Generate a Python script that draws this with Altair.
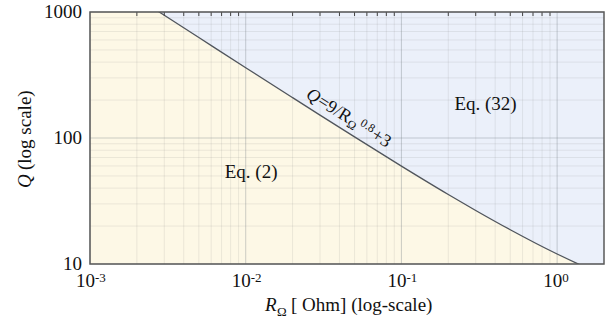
import math
import altair as alt
import pandas as pd

# ---- data ----
R_ohm = [0.001, 0.002, 0.003, 0.005, 0.01, 0.02, 0.03, 0.05, 0.1, 0.2, 0.3, 0.5, 1.0, 1.5, 2.0]
Q_curve = [2264, 1301, 942, 627, 361, 209, 152, 102, 59.8, 35.6, 26.6, 18.7, 12.0, 9.5, 8.17]

x_major = [0.001, 0.01, 0.1, 1.0]
x_exponents = ["-3", "-2", "-1", "0"]
x_minor = [0.002, 0.003, 0.004, 0.005, 0.006, 0.007, 0.008, 0.009,
           0.02, 0.03, 0.04, 0.05, 0.06, 0.07, 0.08, 0.09,
           0.2, 0.3, 0.4, 0.5, 0.6, 0.7, 0.8, 0.9]
y_major = [10, 100, 1000]
y_labels = ["10", "100", "1000"]
y_minor = [20, 30, 40, 50, 60, 70, 80, 90, 200, 300, 400, 500, 600, 700, 800, 900]

region_labels = ["Eq. (2)", "Eq. (32)"]
region_R = [0.00733, 0.219]
region_Q = [48.2, 166.8]

W, H = 514, 252
FONT = "Liberation Serif"

xs = alt.Scale(type="log", domain=[0.001, 2], nice=False)
ys = alt.Scale(type="log", domain=[10, 1000], nice=False)

curve = pd.DataFrame({"R": R_ohm, "Q": Q_curve})
xmaj = pd.DataFrame({"v": x_major, "e": x_exponents})
xmin = pd.DataFrame({"v": x_minor})
ymaj = pd.DataFrame({"v": y_major, "t": y_labels})
ymin = pd.DataFrame({"v": y_minor})
regions = pd.DataFrame({"R": region_R, "Q": region_Q, "t": region_labels})
one = pd.DataFrame({"a": [0]})

X = lambda f: alt.X(f, type="quantitative", scale=xs, axis=None)
Y = lambda f: alt.Y(f, type="quantitative", scale=ys, axis=None, stack=None)

blue = alt.Chart(curve).mark_area(color="#ebf0fa", clip=True, interpolate="monotone").encode(
    x=X("R"), y=Y("Q"), y2=alt.value(0))
yellow = alt.Chart(curve).mark_area(color="#fdf8e6", clip=True, interpolate="monotone").encode(
    x=X("R"), y=Y("Q"), y2=alt.value(H))

gx_min = alt.Chart(xmin).mark_rule(color="#808080", opacity=0.14, strokeWidth=1).encode(x=X("v"))
gy_min = alt.Chart(ymin).mark_rule(color="#808080", opacity=0.14, strokeWidth=1).encode(y=Y("v"))
gx_maj = alt.Chart(xmaj).mark_rule(color="#707880", opacity=0.35, strokeWidth=1).encode(x=X("v"))
gy_maj = alt.Chart(ymaj).mark_rule(color="#707880", opacity=0.35, strokeWidth=1).encode(y=Y("v"))

top_ticks = alt.Chart(xmin).mark_rule(color="#444444", strokeWidth=1).encode(
    x=X("v"), y=alt.value(0), y2=alt.value(4))

line = alt.Chart(curve).mark_line(color="#50555c", strokeWidth=1.3, clip=True,
                                   interpolate="monotone").encode(x=X("R"), y=Y("Q"))

frame = alt.Chart(one).mark_rect(fillOpacity=0, stroke="#5a5a5a", strokeWidth=1.5).encode(
    x=alt.value(0), x2=alt.value(W), y=alt.value(0), y2=alt.value(H))

xlab_base = alt.Chart(xmaj).mark_text(font=FONT, fontSize=19, align="right", baseline="alphabetic",
                                      color="#111111", dx=5).encode(
    x=X("v"), y=alt.value(H + 23), text=alt.value("10"))
xlab_exp = alt.Chart(xmaj).mark_text(font=FONT, fontSize=13, align="left", baseline="alphabetic",
                                     color="#111111", dx=5).encode(
    x=X("v"), y=alt.value(H + 18), text="e:N")
ylab = alt.Chart(ymaj).mark_text(font=FONT, fontSize=19, align="right", baseline="middle",
                                 color="#111111", dy=0).encode(
    y=Y("v"), x=alt.value(-8), text="t:N")

region_txt = alt.Chart(regions).mark_text(font=FONT, fontSize=19, align="left", baseline="alphabetic",
                                          color="#111111").encode(
    x=X("R"), y=Y("Q"), text="t:N")

def txt(s, x, y, size=19, style="normal", angle=0, align="left"):
    return alt.Chart(one).mark_text(text=s, font=FONT, fontSize=size, fontStyle=style,
                                    align=align, baseline="alphabetic", angle=angle,
                                    color="#111111").encode(x=alt.value(x), y=alt.value(y))

# axis titles
titles = [
    txt("R", 175, 299, 19, "italic"),
    txt("\u03a9", 187, 304, 13),
    txt("[ Ohm] (log-scale)", 201, 299, 19),
    txt("Q", -59, 176, 19, "italic", angle=270),
    txt("(log scale)", -59, 158, 19, "normal", angle=270),
]

# rotated curve label
ang = 32
ca, sa = math.cos(math.radians(ang)), math.sin(math.radians(ang))
px0, py0 = 215, 85
def along(s, h):
    return px0 + s * ca + h * sa, py0 + s * sa - h * ca
pieces = [("Q", 0, 0, 18, "italic"), ("=9/R", 13.5, 0, 18, "normal"),
          ("\u03a9", 50, -3, 12, "normal"), ("0.8", 61, 5, 12, "normal"),
          ("+3", 77, 0, 18, "normal")]
label_layers = []
for s_, d, h, size, style in pieces:
    x_, y_ = along(d, h)
    label_layers.append(txt(s_, x_, y_, size, style, angle=ang))

chart = alt.layer(
    yellow, blue, gx_min, gy_min, gx_maj, gy_maj, line, top_ticks, frame,
    xlab_base, xlab_exp, ylab, region_txt, *titles, *label_layers
).properties(
    width=W, height=H,
    autosize=alt.AutoSizeParams(type="none"),
    padding={"left": 90, "top": 12, "right": 2, "bottom": 63},
).configure_view(stroke=None)

chart.save("out.html", embed_options={"renderer": "svg", "actions": False})
